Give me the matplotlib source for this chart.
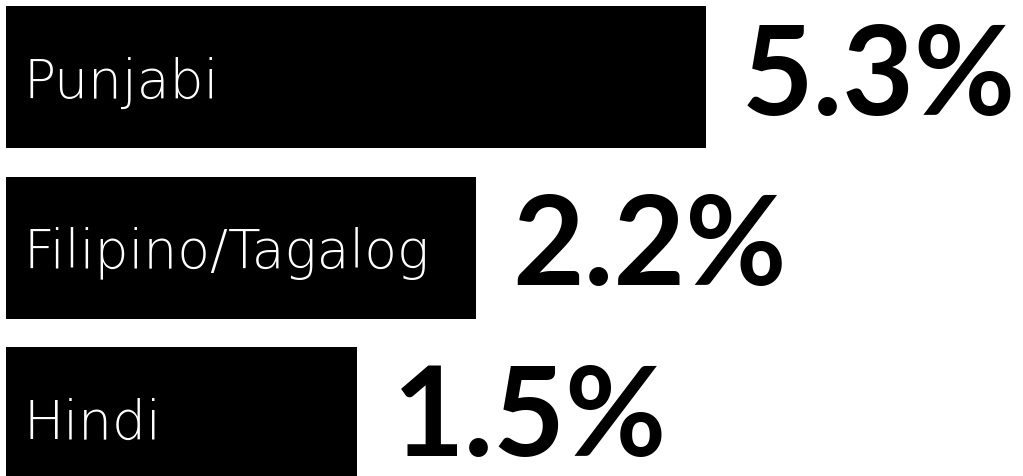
import matplotlib
matplotlib.use("Agg")
import matplotlib.pyplot as plt

languages = ["Punjabi", "Filipino/Tagalog", "Hindi"]
values = [5.3, 2.2, 1.5]
value_labels = ["5.3%", "2.2%", "1.5%"]
# bar extents as drawn in the source (not proportional to values)
bar_extent = [700, 470, 351]

W, H = 1023, 477
fig = plt.figure(figsize=(W / 100, H / 100), dpi=100)
ax = fig.add_axes([0, 0, 1, 1])
pitch = 170.5
ax.set_xlim(-6, W - 6)
ax.set_ylim((H - 78) / pitch, -78 / pitch)
ax.axis("off")

ypos = list(range(len(languages)))
ax.barh(ypos, bar_extent, height=142 / pitch, left=0, color="black")

for y, lang, ext, vl in zip(ypos, languages, bar_extent, value_labels):
    ax.text(17, y + 20 / pitch, lang, color="white", fontsize=38.5,
            family="DejaVu Sans", fontweight=200, va="baseline", ha="left")
    ax.text(ext + 36, y + 37 / pitch, vl, color="black", fontsize=89,
            family="Lato", fontweight="bold", va="baseline", ha="left")

fig.savefig("out.png", dpi=100)
